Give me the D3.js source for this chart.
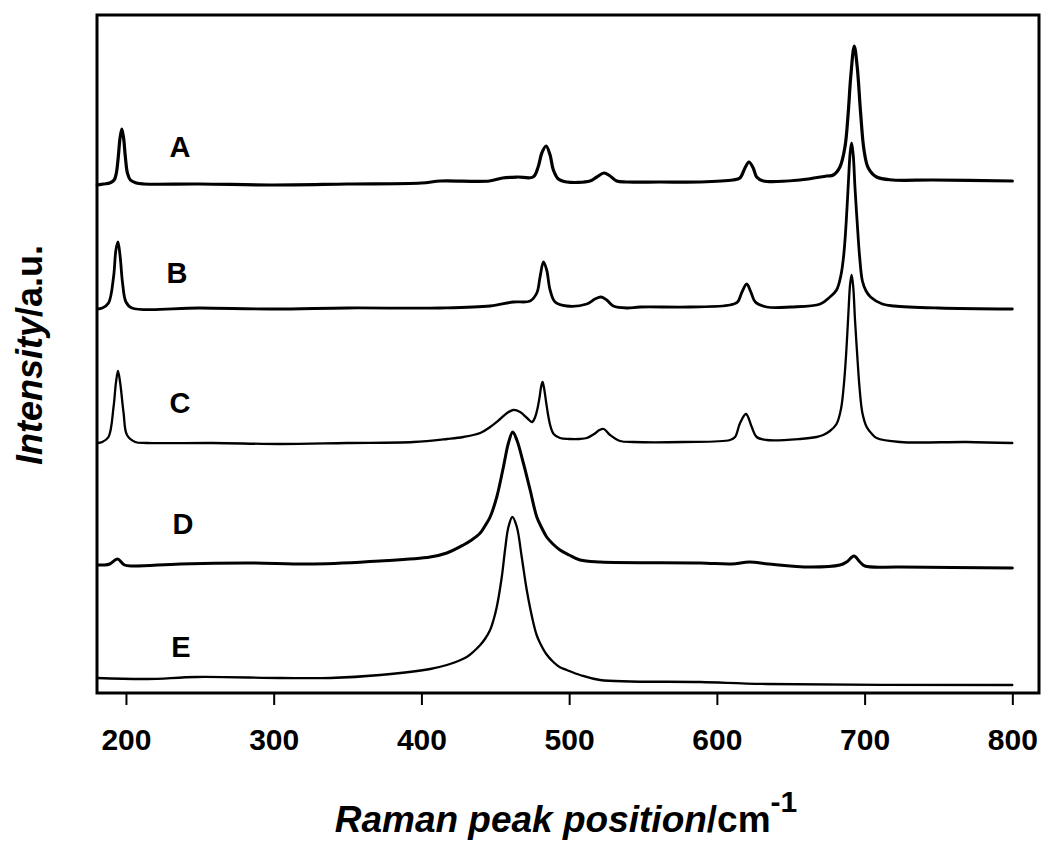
<!DOCTYPE html>
<html>
<head>
<meta charset="utf-8">
<script src="https://cdn.jsdelivr.net/npm/d3@7"></script>
<style>
  body { margin: 0; background: #fff; }
  svg { display: block; }
  text { font-family: "Liberation Sans", Arial, Helvetica, sans-serif; font-weight: bold; fill: #000; }
</style>
</head>
<body>
<svg id="chart" width="1045" height="845"></svg>
<script>
// Raman spectra, stacked with vertical offsets: [Raman shift (cm-1), intensity (a.u.)]
const sampleLabels = ["A", "B", "C", "D", "E"];

const spectrumA = [
  [180.6,508],[185,509],[189,510],[192,513],[193.5,520],[194.8,536],[196,555],[197.2,564],
  [198.4,555],[199.6,536],[201,520],[203,513],[207,510],[212,509],[250,509],[300,508],
  [350,509],[400,510],[413,512],[446,512],[455,515],[465,516],[475.6,516],[479,526],
  [481.5,540],[484.4,547],[487.1,538],[489.3,523],[492.7,514],[498.4,511],[514.1,512],
  [518.7,516],[523.6,520],[527.7,517],[532.2,512],[539,511],[561.5,511],[588.6,511],
  [610.9,513],[615.6,515],[619,525],[621.7,531],[624.6,525],[626.9,516],[631.4,512],
  [656.2,513],[674.3,517],[678.8,518],[683.3,526],[686.7,546],[688.9,580],[690.6,616],
  [693,647],[695,626],[697.3,580],[699.6,543],[702.5,525],[708.1,516],[719.4,513],
  [746,513],[800,512]
];

const spectrumB = [
  [180.6,384],[184,385],[188.2,390],[191.6,416],[193.2,443],[194.6,451],[196.1,436],
  [197.7,410],[200,391],[204,385],[250,385],[300,384],[350,385],[412.7,385],[446.5,387],
  [462.3,391],[473.6,392],[478.1,400],[480.3,416],[482.6,431],[484.8,423],[487.1,403],
  [490.5,391],[498.4,387],[511.9,389],[517.5,394],[521.6,396],[525.4,393],[529.9,387],
  [539,385],[548,386],[581.8,386],[608.9,388],[614,391],[617,401],[620.2,409],
  [623,401],[626,391],[633.7,386],[650,386],[670,389],[676.5,396],[681,403],
  [684,418],[686,440],[687.5,470],[689,510],[690.2,540],[691.2,550],[692.3,538],
  [693.5,505],[695,470],[696.7,435],[698.5,412],[701,402],[704,396],[712,389],
  [720,387],[750,385],[800,384]
];

const spectrumC = [
  [180.6,250],[184,251],[188.2,256],[191.6,286],[193.2,310],[194.6,322],[196.1,310],
  [198.4,280],[200.7,258],[206.3,251],[214,250],[259,250],[304.4,249],[349.5,250],
  [394.6,251],[417.4,254],[428.3,256],[439.8,260],[446.5,266],[453.3,274],[458,280],
  [462.1,283],[466.8,281],[471.5,275],[474.9,271],[477,276],[478.5,284],[480,296],
  [481,306],[482,311],[483,305],[484.5,290],[486,276],[487.5,266],[489.5,259],
  [493.8,255],[500,254],[507,254],[512,255],[517,259],[520.5,263],[523.4,264],
  [527.7,258],[534.5,252],[543.4,251],[577.3,251],[608.9,253],[612.3,256],[615.7,270],
  [619.7,279],[623.6,266],[626.9,256],[633.7,253],[656.3,254],[667.5,256],[672,258],
  [676.5,262],[681,269],[684,284],[686,309],[687.5,339],[689,379],[690.2,409],
  [691.2,418],[692.3,406],[693.5,373],[695,338],[696.7,303],[698.5,280],[701.4,266],
  [705,259],[708.1,255],[723.9,251],[769,251],[800,250]
];

const spectrumD = [
  [180.6,128],[185,128],[189,129],[194.3,134],[199,128],[205,127],[236.7,129],
  [281.9,130],[326.9,129],[372,132],[405.9,136],[417.2,140],[428.4,148],[434,153],
  [439.8,160],[443,167],[446.5,176],[451,196],[455.5,226],[458.9,250],[461.8,261],
  [464.6,253],[469,230],[473.6,203],[478.1,176],[481.5,165],[484.8,156],[489,149],
  [493.8,143],[500,138],[507.4,133],[520.9,131],[588.6,130],[610,129],[622,131],
  [635,129],[663,126],[683.3,128],[687.8,131],[692.8,137],[696.8,131],[700.2,127],
  [723.9,126],[800,125]
];

const spectrumE = [
  [180.4,15],[214.2,14],[248,16],[304.4,15],[338.2,15],[372,18],[405.9,24],[417.2,28],
  [425,32],[430.7,36],[435,41],[439.8,48],[443,54],[446.5,63],[448.8,73],[451,86],
  [454.4,116],[456.6,143],[458.9,166],[461.6,176],[464.6,166],[467.9,136],[471.3,103],
  [475.8,70],[478,58],[480.3,50],[484.5,39],[489.3,31],[493.5,26],[498.4,23],[507.4,18],
  [520.9,13],[588.6,11],[633.7,9],[800,8]
];

const spectra = [spectrumA, spectrumB, spectrumC, spectrumD, spectrumE];
const xTickValues = [200, 300, 400, 500, 600, 700, 800];

// ---- layout ----
const W = 1045, H = 845;
const margin = { top: 15, right: 4, bottom: 152, left: 97 };
const svg = d3.select("#chart");

const x = d3.scaleLinear().domain([180.4, 819.4]).range([margin.left, W - margin.right]);
const y = d3.scaleLinear().domain([0, 678]).range([H - margin.bottom, margin.top]);

const lineWidths = [3.2, 2.8, 2.3, 3, 2.3];
const line = d3.line()
  .x(d => x(d[0]))
  .y(d => y(d[1]))
  .curve(d3.curveCatmullRom.alpha(0.5));

svg.append("g")
  .selectAll("path")
  .data(spectra)
  .join("path")
  .attr("d", line)
  .attr("fill", "none")
  .attr("stroke", "#000")
  .attr("stroke-width", (d, i) => lineWidths[i])
  .attr("stroke-linejoin", "round")
  .attr("stroke-linecap", "round");

// sample letters beside each trace
const labelPos = [[180, 157], [177, 283], [180, 413], [183, 534], [181, 657]];
svg.append("g")
  .selectAll("text")
  .data(sampleLabels)
  .join("text")
  .attr("x", (d, i) => labelPos[i][0])
  .attr("y", (d, i) => labelPos[i][1])
  .attr("text-anchor", "middle")
  .style("font-size", "29px")
  .text(d => d);

// bottom axis with outward ticks
const xAxis = d3.axisBottom(x)
  .tickValues(xTickValues)
  .tickSize(12)
  .tickPadding(24)
  .tickFormat(d3.format("d"));

const gx = svg.append("g")
  .attr("transform", `translate(0,${H - margin.bottom})`)
  .call(xAxis);
gx.select(".domain").remove();
gx.selectAll(".tick line").attr("stroke", "#000").attr("stroke-width", 2);
gx.selectAll(".tick text")
  .attr("fill", "#000")
  .style("font-family", "\"Liberation Sans\", Arial, sans-serif")
  .style("font-weight", "bold")
  .style("font-size", "30px");

// plot frame
svg.append("rect")
  .attr("x", margin.left)
  .attr("y", margin.top)
  .attr("width", W - margin.left - margin.right - 2)
  .attr("height", H - margin.top - margin.bottom)
  .attr("fill", "none")
  .attr("stroke", "#000")
  .attr("stroke-width", 3);

// x-axis title
const xt = svg.append("text")
  .attr("x", 566)
  .attr("y", 832)
  .attr("text-anchor", "middle")
  .style("font-size", "37px");
xt.append("tspan").style("font-style", "italic").text("Raman peak position");
xt.append("tspan").text("/cm");
xt.append("tspan").attr("dy", -20).style("font-size", "30px").text("-1");

// y-axis title
const yt = svg.append("text")
  .attr("transform", "translate(42,355) rotate(-90)")
  .attr("text-anchor", "middle")
  .style("font-size", "36px");
yt.append("tspan").style("font-style", "italic").text("Intensity");
yt.append("tspan").text("/a.u.");
</script>
</body>
</html>
